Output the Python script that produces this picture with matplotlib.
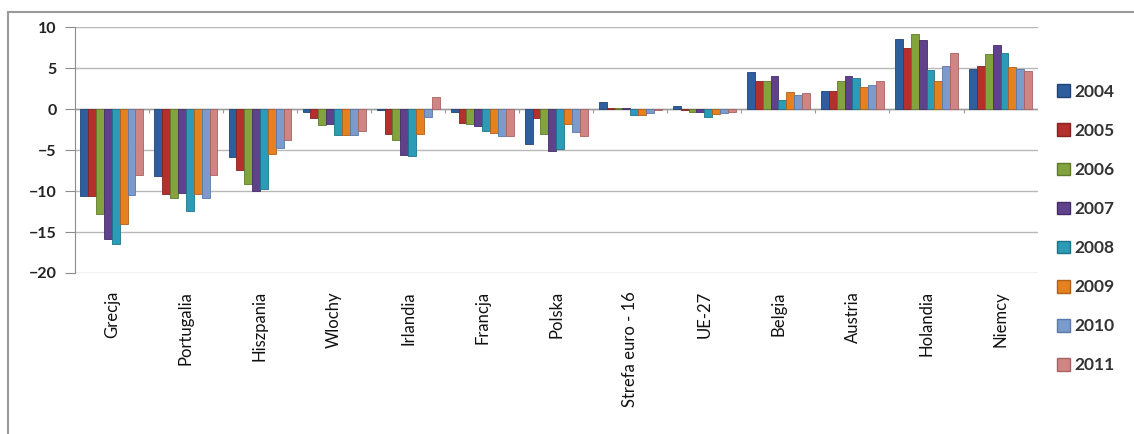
import matplotlib.pyplot as plt
import numpy as np
from matplotlib.lines import Line2D

countries = ["Grecja", "Portugalia", "Hiszpania", "Wlochy", "Irlandia", "Francja",
             "Polska", "Strefa euro - 16", "UE-27", "Belgia", "Austria", "Holandia", "Niemcy"]
years = ["2004", "2005", "2006", "2007", "2008", "2009", "2010", "2011"]

# one list per year, values in country order
v2004 = [-10.6, -8.2, -5.8, -0.3, -0.1, -0.3, -4.2, 0.9, 0.4, 4.6, 2.2, 8.6, 4.9]
v2005 = [-10.6, -10.3, -7.4, -1.1, -3.0, -1.7, -1.1, 0.2, -0.1, 3.4, 2.2, 7.5, 5.3]
v2006 = [-12.8, -10.8, -9.1, -1.9, -3.7, -1.8, -3.0, 0.2, -0.3, 3.5, 3.4, 9.2, 6.7]
v2007 = [-15.8, -10.2, -10.0, -1.8, -5.6, -2.1, -5.1, 0.2, -0.3, 4.1, 4.1, 8.5, 7.8]
v2008 = [-16.4, -12.4, -9.7, -3.1, -5.7, -2.7, -4.8, -0.7, -0.9, 1.1, 3.8, 4.8, 6.9]
v2009 = [-14.0, -10.4, -5.5, -3.1, -3.0, -2.9, -1.8, -0.7, -0.6, 2.1, 2.7, 3.4, 5.1]
v2010 = [-10.5, -10.8, -4.7, -3.1, -1.0, -3.3, -2.8, -0.5, -0.5, 1.7, 3.0, 5.3, 4.9]
v2011 = [-8.0, -8.0, -3.8, -2.6, 1.5, -3.3, -3.3, -0.1, -0.4, 2.0, 3.5, 6.9, 4.7]
series = [v2004, v2005, v2006, v2007, v2008, v2009, v2010, v2011]

colors = ["#2f5e9e", "#b3302d", "#83a33e", "#60418c", "#2b9bb6",
          "#e5821f", "#7b9bcc", "#cf8584"]
edges = ["#1f4475", "#872220", "#5f7a2a", "#452e68", "#1d7489",
         "#b0601a", "#5a78a8", "#a86262"]

fig = plt.figure(figsize=(11.34, 4.34), dpi=100)
ax = fig.add_axes([0.066, 0.371, 0.849, 0.566])

x = np.arange(len(countries))
n = len(series)
w = 0.85 / n
for i, vals in enumerate(series):
    ax.bar(x - 0.425 + w * (i + 0.5), vals, width=w, color=colors[i],
           edgecolor=edges[i], linewidth=0.6, label=years[i], zorder=3)

ax.set_xlim(-0.5, len(countries) - 0.5)
ax.set_ylim(-20, 10)
ax.set_yticks(np.arange(-20, 11, 5))
ax.yaxis.grid(True, color="#b8b8b8", linewidth=1.0, zorder=0)
ax.set_axisbelow(True)

# zero line with small marks between categories
ax.axhline(0, color="#9a9a9a", linewidth=1.0, zorder=2)
bounds = np.arange(len(countries) + 1) - 0.5
ax.vlines(bounds, -0.45, 0, color="#9a9a9a", linewidth=0.8, zorder=2)

for s in ["top", "right", "bottom"]:
    ax.spines[s].set_visible(False)
ax.spines["left"].set_color("#8c8c8c")
ax.tick_params(axis="y", length=7, color="#8c8c8c", labelsize=11.5,
               labelcolor="#222222", pad=6)

ax.set_xticks(x)
ax.set_xticklabels(countries, rotation=90, fontsize=12, color="#111111",
                   family="Lato", va="top")
ax.tick_params(axis="x", length=0, pad=13)
for t in ax.get_yticklabels():
    t.set_family("Lato")
    t.set_fontweight("bold")

handles = [plt.Rectangle((0, 0), 1, 1, facecolor=colors[i], edgecolor=edges[i])
           for i in range(n)]
leg = fig.legend(handles, years, loc="upper left", bbox_to_anchor=(0.918, 0.843),
                 frameon=False, handlelength=0.75, handleheight=0.75,
                 handletextpad=0.3, labelspacing=1.33,
                 prop={"family": "Lato", "size": 12.5, "weight": "bold"})
for t in leg.get_texts():
    t.set_color("#333333")

# outer frame around the chart (top and left edges)
fig.add_artist(Line2D([8 / 1134, 1.0], [1 - 12 / 434, 1 - 12 / 434],
                      transform=fig.transFigure, color="#9a9a9a", linewidth=1.5))
fig.add_artist(Line2D([8 / 1134, 8 / 1134], [0.0, 1 - 12 / 434],
                      transform=fig.transFigure, color="#9a9a9a", linewidth=1.5))

fig.savefig("out.png", dpi=100)
